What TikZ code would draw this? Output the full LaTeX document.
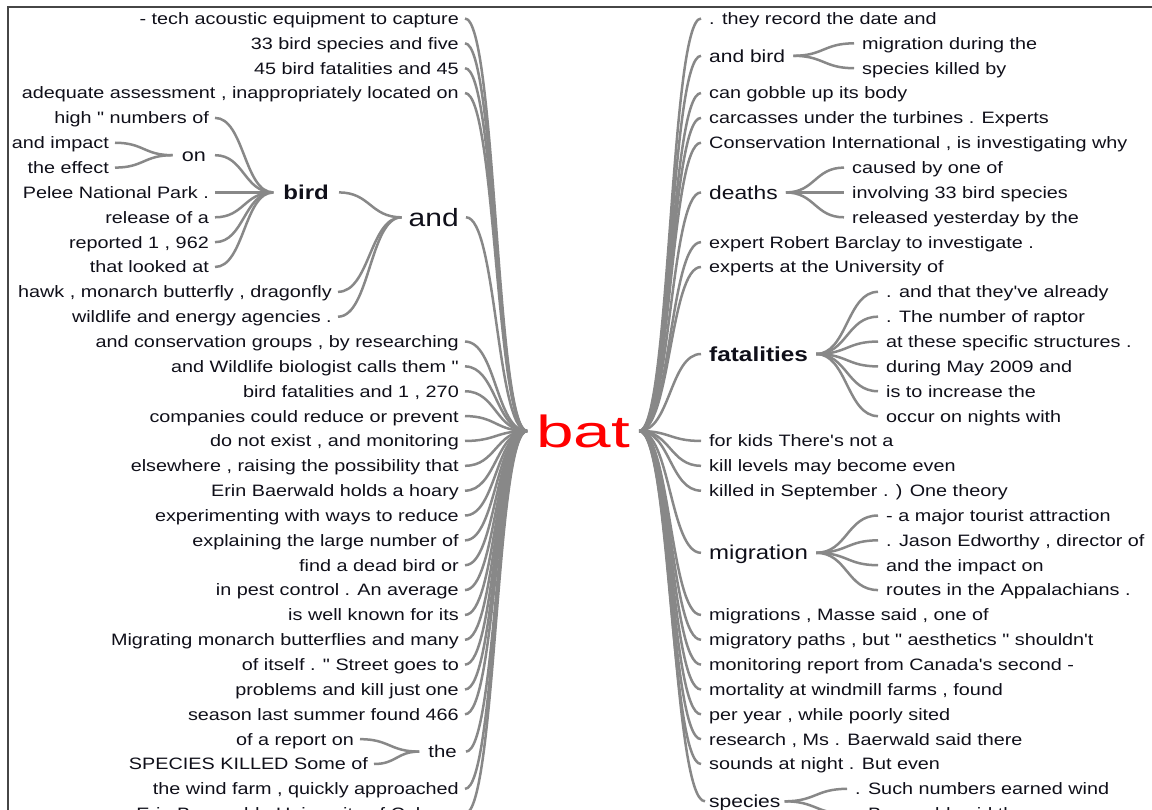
\documentclass[tikz,border=0pt]{standalone}
\usepackage{fontspec}
\setmainfont[FakeStretch=1.2,Ligatures=TeXOff]{Liberation Sans}
\newfontfamily\batfont[FakeStretch=1.5]{Liberation Sans}
\usetikzlibrary{calc}
\definecolor{batred}{RGB}{255,0,0}
\definecolor{linkgray}{RGB}{136,136,136}
\definecolor{txt}{RGB}{15,15,25}
\definecolor{framec}{RGB}{70,70,70}
\tikzset{
  lbl/.style={font=\fontsize{16.5}{18}\selectfont, inner ysep=0pt, inner xsep=6pt,
    text height=11.8pt, text depth=0pt, text=txt},
  L/.style={lbl, anchor=east},
  R/.style={lbl, anchor=west, inner xsep=8pt},
  big/.style 2 args={lbl, font=\fontsize{#1}{#1}\selectfont, text height=#2},
  wlink/.style={draw=linkgray, line width=2.5pt},
  framel/.style={draw=framec, line width=1.2pt}
}
\newcommand\wlink[2]{\draw[wlink] let \p1=(#1), \p2=(#2) in (\p1) .. controls ({(\x1+\x2)/2},\y1) and ({(\x1+\x2)/2},\y2) .. (\p2);}
\begin{document}
\begin{tikzpicture}[x=1pt,y=-1pt]
\clip (0,0) rectangle (1152,810);
\draw[framel] (8,814) -- (8,7) -- (1156,7);

% centre
\node[anchor=west, inner xsep=9pt, inner ysep=0pt, font=\batfont\fontsize{45}{45}\selectfont,
  text=batred, text height=32pt, text depth=0pt] (bat) at (527,431) {bat};

% ---------- left side, children of bat ----------
\foreach \i/\t in {0/{- tech acoustic equipment to capture},
  1/{33 bird species and five},
  2/{45 bird fatalities and 45},
  3/{adequate assessment , inappropriately located on},
  13/{and conservation groups , by researching},
  14/{and Wildlife biologist calls them "},
  15/{bird fatalities and 1 , 270},
  16/{companies could reduce or prevent},
  17/{do not exist , and monitoring},
  18/{elsewhere , raising the possibility that},
  19/{Erin Baerwald holds a hoary},
  20/{experimenting with ways to reduce},
  21/{explaining the large number of},
  22/{find a dead bird or},
  23/{in pest control . An average},
  24/{is well known for its},
  25/{Migrating monarch butterflies and many},
  26/{of itself . " Street goes to},
  27/{problems and kill just one},
  28/{season last summer found 466},
  31/{the wind farm , quickly approached},
  32/{Erin Baerwald , University of Calgary}}
  \node[L] (l\i) at (465,{18.5+24.85*\i}) {\t};

\node[big={25}{17.9pt}, anchor=east, inner xsep=7pt] (andn) at (466,217.3) {and};
\node[big={17}{12.2pt}, anchor=east, inner xsep=9pt] (then) at (466,751.6) {the};

% children of "and"
\node[big={20}{14.3pt}, font=\bfseries\fontsize{20}{20}\selectfont, anchor=east, inner xsep=10pt] (bird) at (339,192.45) {bird};
\node[L] (hawk) at (338,291.85) {hawk , monarch butterfly , dragonfly};
\node[L] (wild) at (338,316.7) {wildlife and energy agencies .};

% children of "bird"
\node[L] (b4) at (215,117.9) {high " numbers of};
\node[big={18}{12.9pt}, anchor=east, inner xsep=9pt] (on) at (215,155.2) {on};
\node[L] (b7) at (215,192.45) {Pelee National Park .};
\node[L] (b8) at (215,217.3) {release of a};
\node[L] (b9) at (215,242.15) {reported 1 , 962};
\node[L] (b10) at (215,267) {that looked at};

% children of "on"
\node[L] (o1) at (115,142.75) {and impact};
\node[L] (o2) at (115,167.6) {the effect};

% children of "the"
\node[L] (t1) at (360,739.15) {of a report on};
\node[L] (t2) at (374,764) {SPECIES KILLED Some of};

% ---------- right side, children of bat ----------
\foreach \i/\t in {0/{. they record the date and},
  3/{can gobble up its body},
  4/{carcasses under the turbines . Experts},
  5/{Conservation International , is investigating why},
  9/{expert Robert Barclay to investigate .},
  10/{experts at the University of},
  17/{for kids There's not a},
  18/{kill levels may become even},
  19/{killed in September . ) One theory},
  24/{migrations , Masse said , one of},
  25/{migratory paths , but " aesthetics " shouldn't},
  26/{monitoring report from Canada's second -},
  27/{mortality at windmill farms , found},
  28/{per year , while poorly sited},
  29/{research , Ms . Baerwald said there},
  30/{sounds at night . But even}}
  \node[R] (r\i) at (701,{18.5+24.85*\i}) {\t};

\node[big={17.5}{12.5pt}, anchor=west, inner xsep=8pt] (andbird) at (701,55.8) {and bird};
\node[big={19}{13.6pt}, anchor=west, inner xsep=8pt] (deaths) at (701,192.45) {deaths};
\node[big={20.3}{14.5pt}, font=\bfseries\fontsize{20.3}{20.3}\selectfont, anchor=west, inner xsep=8pt] (fatal) at (701,354) {fatalities};
\node[big={20}{14.3pt}, anchor=west, inner xsep=8pt] (migr) at (701,552.8) {migration};
\node[big={17.5}{12.5pt}, anchor=west, inner xsep=4pt] (species) at (705,801.3) {species};

% children of "and bird"
\node[R] (ab1) at (854,43.35) {migration during the};
\node[R] (ab2) at (854,68.2) {species killed by};

% children of "deaths"
\node[R] (d1) at (844,167.6) {caused by one of};
\node[R] (d2) at (844,192.45) {involving 33 bird species};
\node[R] (d3) at (844,217.3) {released yesterday by the};

% children of "fatalities"
\foreach \i/\t in {11/{. and that they've already},
  12/{. The number of raptor},
  13/{at these specific structures .},
  14/{during May 2009 and},
  15/{is to increase the},
  16/{occur on nights with}}
  \node[R] (f\i) at (878,{18.5+24.85*\i}) {\t};

% children of "migration"
\foreach \i/\t in {20/{- a major tourist attraction},
  21/{. Jason Edworthy , director of},
  22/{and the impact on},
  23/{routes in the Appalachians .}}
  \node[R] (m\i) at (878,{18.5+24.85*\i}) {\t};

% children of "species"
\node[R] (s1) at (847,788.85) {. Such numbers earned wind};
\node[R] (s2) at (847,813.7) {. Baerwald said the};

% ---------- connectors ----------
\foreach \i in {0,1,2,3,13,14,15,16,17,18,19,20,21,22,23,24,25,26,27,28,31,32}
  {\wlink{l\i.east}{bat.west}}
\wlink{andn.east}{bat.west}
\wlink{then.east}{bat.west}
\wlink{bird.east}{andn.west}
\wlink{hawk.east}{andn.west}
\wlink{wild.east}{andn.west}
\foreach \nm in {b4,on,b7,b8,b9,b10} {\wlink{\nm.east}{bird.west}}
\wlink{o1.east}{on.west}
\wlink{o2.east}{on.west}
\wlink{t1.east}{then.west}
\wlink{t2.east}{then.west}

\foreach \i in {0,3,4,5,9,10,17,18,19,24,25,26,27,28,29,30}
  {\wlink{bat.east}{r\i.west}}
\foreach \nm in {andbird,deaths,fatal,migr,species} {\wlink{bat.east}{\nm.west}}
\wlink{andbird.east}{ab1.west}
\wlink{andbird.east}{ab2.west}
\foreach \nm in {d1,d2,d3} {\wlink{deaths.east}{\nm.west}}
\foreach \i in {11,...,16} {\wlink{fatal.east}{f\i.west}}
\foreach \i in {20,...,23} {\wlink{migr.east}{m\i.west}}
\wlink{species.east}{s1.west}
\wlink{species.east}{s2.west}
\end{tikzpicture}
\end{document}
